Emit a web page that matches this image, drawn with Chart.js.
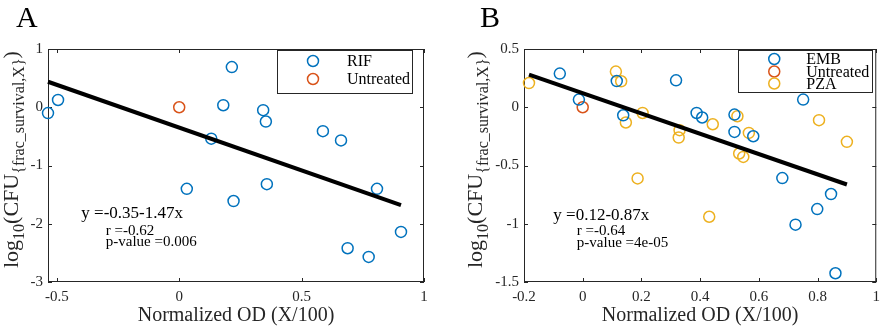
<!DOCTYPE html>
<html><head><meta charset="utf-8">
<script src="https://cdn.jsdelivr.net/npm/chart.js@4/dist/chart.umd.min.js"></script>
<style>
html,body{margin:0;padding:0;background:#fff;}
#wrap{position:relative;width:886px;height:328px;overflow:hidden;background:#fff;}
canvas{position:absolute;top:0;}
</style></head><body>
<div id="wrap">
<canvas id="cA" width="443" height="328" style="left:0"></canvas>
<canvas id="cB" width="443" height="328" style="left:443px"></canvas>
</div>
<script>
// ---------- Panel A data ----------
const rifX = [-0.536, -0.495, 0.031, 0.131, 0.180, 0.215, 0.222, 0.343, 0.354, 0.358, 0.587, 0.661, 0.688, 0.774, 0.808, 0.906];
const rifY = [-0.10, 0.125, -1.40, -0.54, 0.035, 0.69, -1.61, -0.05, -0.245, -1.32, -0.41, -0.57, -2.42, -2.57, -1.40, -2.14];
const untreatedAX = [0];
const untreatedAY = [0];
const fitCoefA = [-0.35, -1.47];
const statsA = ["y =-0.35-1.47x", "r =-0.62", "p-value =0.006"];
const xTicksA = [-0.5, 0, 0.5, 1];
const yTicksA = [1, 0, -1, -2, -3];

// ---------- Panel B data ----------
const embX = [-0.078, -0.013, 0.116, 0.138, 0.318, 0.388, 0.407, 0.517, 0.517, 0.581, 0.680, 0.725, 0.751, 0.799, 0.846, 0.861];
const embY = [0.289, 0.066, 0.225, -0.069, 0.231, -0.049, -0.088, -0.063, -0.212, -0.249, -0.608, -1.008, 0.066, -0.874, -0.745, -1.425];
const untreatedBX = [0];
const untreatedBY = [0];
const pzaX = [-0.183, 0.113, 0.131, 0.147, 0.187, 0.204, 0.327, 0.330, 0.431, 0.443, 0.527, 0.533, 0.547, 0.566, 0.805, 0.900];
const pzaY = [0.208, 0.306, 0.223, -0.131, -0.611, -0.049, -0.260, -0.197, -0.940, -0.146, -0.077, -0.397, -0.426, -0.220, -0.111, -0.297];
const fitCoefB = [0.12, -0.87];
const statsB = ["y =0.12-0.87x", "r =-0.64", "p-value =4e-05"];
const xTicksB = [-0.2, 0, 0.2, 0.4, 0.6, 0.8, 1];
const yTicksB = [0.5, 0, -0.5, -1, -1.5];

const xTitle = "Normalized OD (X/100)";
const yTitleParts = [["log", 0], ["10", 1], ["(CFU", 0], ["{frac_survival,X}", 1], [")", 0]];

const SERIF = "'Liberation Serif', 'Times New Roman', serif";
const BLUE = '#0072BD', RED = '#D95319', YEL = '#EDB120';
const AXC = '#262626';

function pts(xs, ys){ return xs.map((x,i)=>({x:x, y:ys[i]})); }
function fitLine(coef, xs){
  const lo = Math.min(...xs), hi = Math.max(...xs);
  return [{x:lo, y:coef[0]+coef[1]*lo}, {x:hi, y:coef[0]+coef[1]*hi}];
}
function scatterDs(label, data, color){
  return {label, data, type:'scatter', showLine:false, borderColor:color, backgroundColor:'rgba(0,0,0,0)',
    pointRadius:5.5, pointBorderWidth:1.5, pointHoverRadius:5.5, pointStyle:'circle', clip:false, order:1, legend:true};
}
function lineDs(data){
  return {label:'fit', data, type:'scatter', showLine:true, borderColor:'#000', borderWidth:4,
    pointRadius:0, pointHoverRadius:0, clip:false, order:0, legend:false};
}

const framePlugin = {
  id:'frame',
  beforeDatasetsDraw(chart){
    const {ctx, chartArea:a, scales} = chart;
    ctx.save();
    ctx.strokeStyle = AXC; ctx.lineWidth = 1;
    ctx.strokeRect(a.left+0.5, a.top+0.5, a.right-a.left-1, a.bottom-a.top-1);
    const L = 4;
    ctx.beginPath();
    scales.x.ticks.forEach(t=>{
      const p = Math.round(scales.x.getPixelForValue(t.value))+0.5;
      ctx.moveTo(p, a.bottom); ctx.lineTo(p, a.bottom-L);
      ctx.moveTo(p, a.top); ctx.lineTo(p, a.top+L);
    });
    scales.y.ticks.forEach(t=>{
      const p = Math.round(scales.y.getPixelForValue(t.value))+0.5;
      ctx.moveTo(a.left, p); ctx.lineTo(a.left+L, p);
      ctx.moveTo(a.right, p); ctx.lineTo(a.right-L, p);
    });
    ctx.stroke();
    ctx.restore();
  },
  afterDraw(chart){
    const o = chart.options.plugins.frame;
    const {ctx, chartArea:a, scales} = chart;
    ctx.save();
    // panel letter
    ctx.fillStyle = '#000';
    ctx.font = '30px ' + SERIF;
    ctx.textBaseline = 'alphabetic';
    ctx.fillText(o.letter, o.letterX, 27);
    // legend box
    const lg = o.legend;
    const bx = a.right - lg.rightGap - lg.w, by = a.top + lg.topGap;
    ctx.fillStyle = '#fff';
    ctx.fillRect(bx, by, lg.w, lg.h);
    ctx.strokeStyle = AXC; ctx.lineWidth = 1;
    ctx.strokeRect(Math.round(bx)+0.5, Math.round(by)+0.5, lg.w, lg.h);
    const items = chart.data.datasets.filter(d=>d.legend);
    ctx.font = lg.font + 'px ' + SERIF;
    ctx.textBaseline = 'middle';
    items.forEach((d,i)=>{
      const cy = by + lg.rows[i];
      ctx.beginPath();
      ctx.arc(bx + lg.mx, cy, 5.5, 0, Math.PI*2);
      ctx.strokeStyle = d.borderColor; ctx.lineWidth = 1.5;
      ctx.stroke();
      ctx.fillStyle = '#000';
      ctx.fillText(d.label, bx + lg.tx, cy + 1);
    });
    // statistics text (data coordinates)
    ctx.fillStyle = '#000';
    o.notes.forEach(n=>{
      ctx.font = n.size + 'px ' + SERIF;
      ctx.textBaseline = 'middle';
      ctx.fillText(n.text, scales.x.getPixelForValue(n.x), scales.y.getPixelForValue(n.y));
    });
    // y-axis title with subscripts
    ctx.save();
    ctx.translate(o.ylabX, o.ylabY);
    ctx.rotate(-Math.PI/2);
    ctx.fillStyle = AXC;
    ctx.textBaseline = 'alphabetic';
    let cx = 0;
    yTitleParts.forEach(([txt, sub])=>{
      ctx.font = (sub ? 16 : 22) + 'px ' + SERIF;
      ctx.fillText(txt, cx, sub ? 6 : 0);
      cx += ctx.measureText(txt).width;
    });
    ctx.restore();
    ctx.restore();
  }
};

function fmt(v){ return String(+(+v).toFixed(2)); }

function makeChart(id, datasets, cfg){
  return new Chart(document.getElementById(id), {
    data:{datasets},
    plugins:[framePlugin],
    options:{
      responsive:false, animation:false, events:[],
      layout:{padding:{left:0, top:49, right:cfg.padRight, bottom:0}},
      plugins:{legend:{display:false}, tooltip:{enabled:false}, frame:cfg.frame},
      scales:{
        x:{type:'linear', min:cfg.xmin, max:cfg.xmax,
          afterBuildTicks:s=>{ s.ticks = cfg.xticks.map(v=>({value:v})); },
          afterFit:s=>{ s.height = 46; },
          grid:{display:false, drawTicks:false}, border:{display:false},
          ticks:{padding:6, color:AXC, font:{family:SERIF, size:15}, callback:fmt, maxRotation:0, autoSkip:false},
          title:{display:true, text:xTitle, color:AXC, font:{family:SERIF, size:20}, padding:{top:0,bottom:0}}
        },
        y:{type:'linear', min:cfg.ymin, max:cfg.ymax,
          afterBuildTicks:s=>{ s.ticks = cfg.yticks.map(v=>({value:v})); },
          afterFit:s=>{ s.width = cfg.yw; },
          grid:{display:false, drawTicks:false}, border:{display:false},
          ticks:{padding:5, color:AXC, font:{family:SERIF, size:15}, callback:fmt, autoSkip:false}
        }
      }
    }
  });
}

const allAX = rifX.concat(untreatedAX);
makeChart('cA', [
  lineDs(fitLine(fitCoefA, allAX)),
  scatterDs('RIF', pts(rifX, rifY), BLUE),
  scatterDs('Untreated', pts(untreatedAX, untreatedAY), RED)
], {
  padRight:19, yw:48, xmin:Math.min(...allAX), xmax:1, ymin:-3, ymax:1, xticks:xTicksA, yticks:yTicksA,
  frame:{letter:'A', letterX:16, ylabX:18, ylabY:268,
    legend:{w:135, h:43, rightGap:12, topGap:1, mx:36, tx:70, font:16, rows:[11, 29]},
    notes:[{x:-0.4, y:-1.83, text:statsA[0], size:17},{x:-0.3, y:-2.12, text:statsA[1], size:15},{x:-0.3, y:-2.32, text:statsA[2], size:15}]}
});

const allBX = embX.concat(untreatedBX, pzaX);
makeChart('cB', [
  lineDs(fitLine(fitCoefB, allBX)),
  scatterDs('EMB', pts(embX, embY), BLUE),
  scatterDs('Untreated', pts(untreatedBX, untreatedBY), RED),
  scatterDs('PZA', pts(pzaX, pzaY), YEL)
], {
  padRight:5, yw:81, xmin:-0.2, xmax:1, ymin:-1.5, ymax:0.5, xticks:xTicksB, yticks:yTicksB,
  frame:{letter:'B', letterX:37, ylabX:39, ylabY:268,
    legend:{w:134, h:42, rightGap:4, topGap:1, mx:36, tx:68, font:16, rows:[9, 21.5, 33.5]},
    notes:[{x:-0.1, y:-0.93, text:statsB[0], size:17},{x:-0.02, y:-1.06, text:statsB[1], size:15},{x:-0.02, y:-1.165, text:statsB[2], size:15}]}
});
</script>
</body></html>
